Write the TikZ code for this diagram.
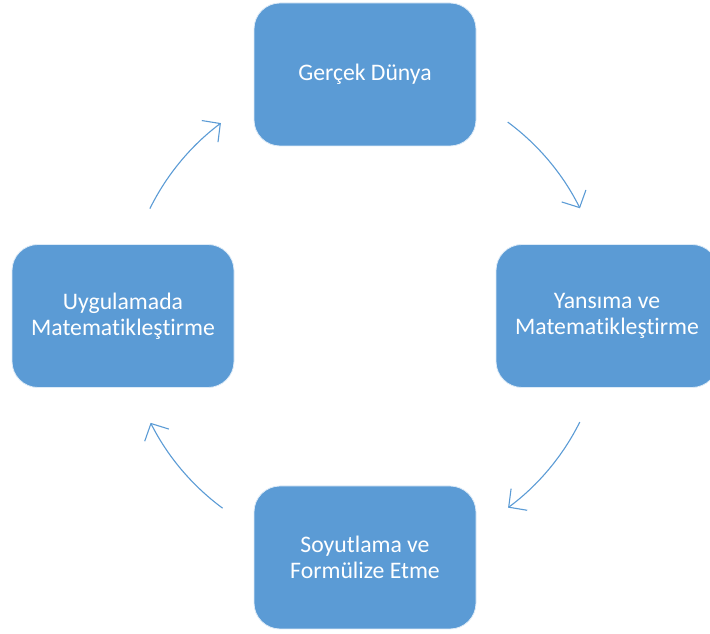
\documentclass[tikz,border=0pt]{standalone}
\usepackage{fontspec}
\setmainfont{Carlito}[Ligatures=NoCommon]
\usetikzlibrary{arrows.meta,calc}
\definecolor{boxblue}{HTML}{5B9BD5}
\begin{document}
\begin{tikzpicture}[x=1pt,y=1pt,
  box/.style={draw=white!80!boxblue,line width=0.8pt,fill=boxblue,rounded corners=26pt,
    minimum width=222pt,minimum height=143pt,inner sep=0pt,text=white,align=center,
    font=\fontsize{23.7}{26}\selectfont},
  cyc/.style={draw=boxblue,line width=1.1pt,-{Straight Barb[length=13pt,width=27pt]}}]
\useasboundingbox (0,0) rectangle (710,634);
\coordinate (c) at (365,319);
\node[box] (top) at (365,559.5) {Gerçek Dünya};
\node[box] (right) at (607,318) {Yansıma ve\\Matematikleştirme};
\node[box] (bottom) at (365,76.5) {Soyutlama ve\\Formülize Etme};
\node[box] (left) at (123,318) {Uygulamada\\Matematikleştirme};
\draw[cyc] ($(c)+(53.5:240)$) arc[start angle=53.5,end angle=26.4,radius=240];
\draw[cyc] ($(c)+(-26.5:240)$) arc[start angle=-26.5,end angle=-53.4,radius=240];
\draw[cyc] ($(c)+(233.6:240)$) arc[start angle=233.6,end angle=206.7,radius=240];
\draw[cyc] ($(c)+(153.7:240)$) arc[start angle=153.7,end angle=126.9,radius=240];
\end{tikzpicture}
\end{document}
